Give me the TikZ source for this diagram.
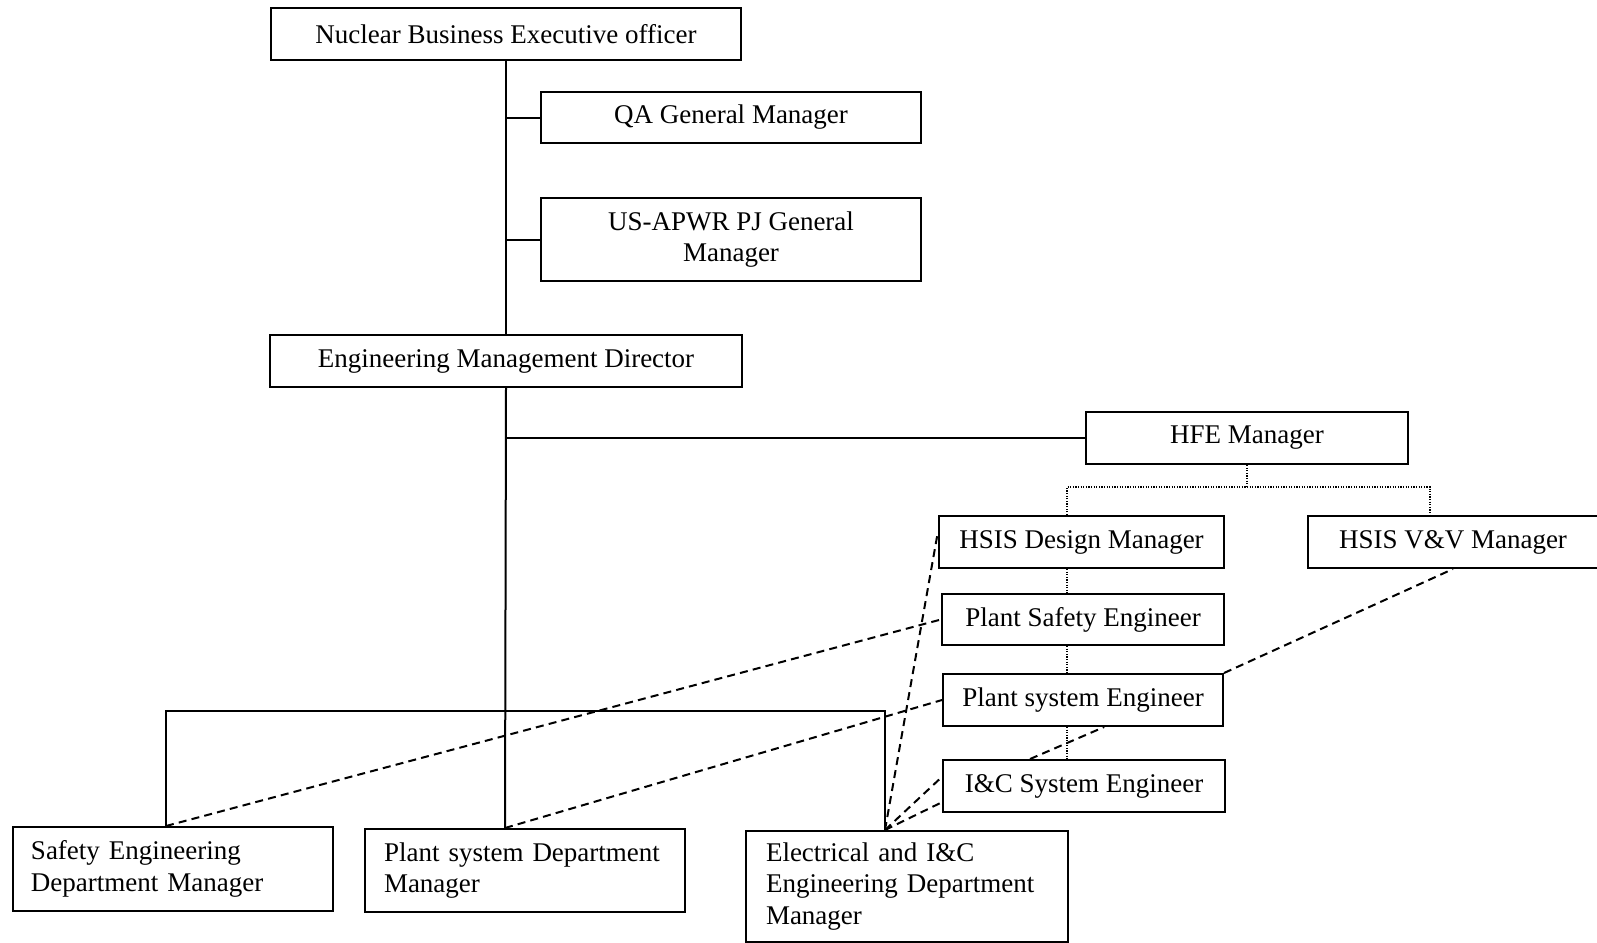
\documentclass[tikz,border=0pt]{standalone}
\usepackage{fontspec}
\setmainfont{Liberation Serif}
\usetikzlibrary{calc}
\begin{document}
\begin{tikzpicture}[x=0.5pt,y=-0.5pt,
  box/.style={draw,line width=1pt,inner sep=0pt,anchor=north west,font=\fontsize{13.5}{15.8}\selectfont},
  cbox/.style={box,align=center},
  lbox/.style={box,align=left},
  solid line/.style={line width=1pt},
  dash line/.style={line width=1pt,dash pattern=on 4pt off 2.6pt},
  dot line/.style={line width=0.6pt,dash pattern=on 0.6pt off 0.7pt}]
\useasboundingbox (0,0) rectangle (1597,943);
% top boxes
\node[cbox,minimum width=235pt,minimum height=26pt] (nbeo) at (270,7) {Nuclear Business Executive officer};
\node[cbox,minimum width=190pt,minimum height=25.5pt] (qa) at (540,91) {QA General Manager};
\node[cbox,minimum width=190pt,minimum height=41.5pt] (us) at (540,197) {US-APWR PJ General\\Manager};
\node[cbox,minimum width=236pt,minimum height=26pt] (emd) at (269,334) {Engineering Management Director};
\node[cbox,minimum width=161pt,minimum height=26pt] (hfe) at (1085,411) {HFE Manager};
\node[cbox,minimum width=142.5pt,minimum height=26pt] (hsd) at (938,515) {HSIS Design Manager};
\node[cbox,minimum width=145pt,minimum height=26pt] (vv) at (1307,515) {HSIS V\&V Manager};
\node[cbox,minimum width=141pt,minimum height=25.5pt] (pse) at (941,593) {Plant Safety Engineer};
\node[cbox,minimum width=140pt,minimum height=26pt] (pen) at (942,673) {Plant system Engineer};
\node[cbox,minimum width=141pt,minimum height=26pt] (ice) at (942,759) {I\&C System Engineer};
% bottom boxes
\node[lbox,inner xsep=9pt,text width=142pt,minimum height=42pt] (sed) at (12,826) {Safety Engineering\\Department Manager};
\node[lbox,inner xsep=9.5pt,text width=141pt,minimum height=41.5pt] (psd) at (364,828) {Plant system Department\\Manager};
\node[lbox,inner xsep=10pt,text width=141pt,minimum height=55.5pt] (eld) at (745,830) {Electrical and I\&C\\Engineering Department\\Manager};
% coordinates
\coordinate (tr) at (505,0);
\coordinate (hl) at (166,711);
\coordinate (hr) at (885,711);
\coordinate (hfeb) at (1067,487);
\coordinate (vvx) at (1430,487);
% solid tree
\draw[solid line] (nbeo.south) -- (emd.north);
\draw[solid line] (qa.west -| tr) -- (qa.west);
\draw[solid line] (us.west -| tr) -- (us.west);
\draw[solid line] (emd.south) -- (psd.north -| tr);
\draw[solid line] (hfe.west -| tr) -- (hfe.west);
\draw[solid line] (sed.north -| hl) -- (hl) -- (hr) -- (eld.north -| hr);
% dotted
\draw[dot line] (hfe.south) -- (hfe.south |- hfeb);
\draw[dot line] (hsd.north -| hfeb) -- (hfeb) -- (vvx) -- (vv.north -| vvx);
\draw[dot line] (hsd.south -| hfeb) -- (pse.north -| hfeb);
\draw[dot line] (pse.south -| hfeb) -- (pen.north -| hfeb);
\draw[dot line] (pen.south -| hfeb) -- (ice.north -| hfeb);
% dashed
\draw[dash line] (sed.north -| hl) -- (pse.west);
\draw[dash line] (psd.north -| tr) -- (pen.west);
\draw[dash line] (eld.north -| hr) -- ($(hsd.north west)!0.3!(hsd.south west)$);
\draw[dash line] (eld.north -| hr) -- ($(ice.north west)!0.33!(ice.south west)$);
\draw[dash line] (eld.north -| hr) -- ($(ice.north west)!0.8!(ice.south west)$);
\draw[dash line] ($(ice.north west)!0.31!(ice.north east)$) -- ($(pen.south west)!0.575!(pen.south east)$);
\draw[dash line] (pen.north east) -- (vv.south);
\end{tikzpicture}
\end{document}
